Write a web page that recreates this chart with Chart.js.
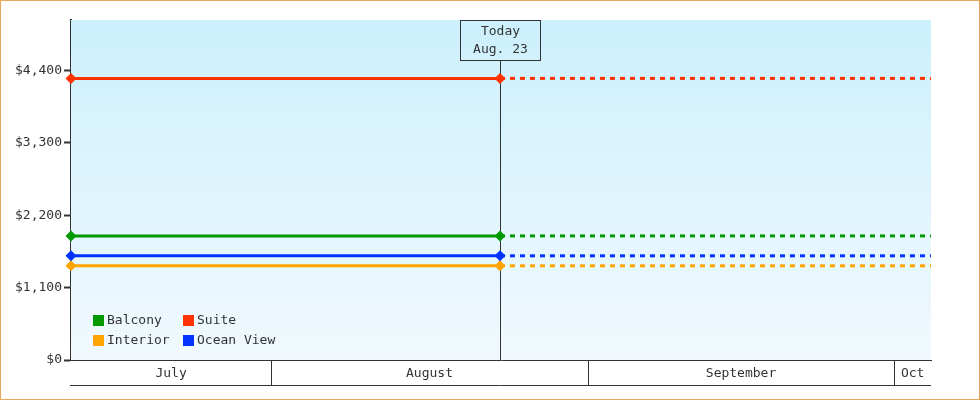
<!DOCTYPE html>
<html>
<head>
<meta charset="utf-8">
<script src="https://cdn.jsdelivr.net/npm/chart.js@4"></script>
<style>
  html, body { margin: 0; padding: 0; background: #fff; }
  #wrap { position: relative; width: 980px; height: 400px; }
  #frame { position: absolute; left: 0; top: 0; width: 978px; height: 398px; border: 1px solid #e8a860; pointer-events: none; }
</style>
</head>
<body>
<div id="wrap">
  <canvas id="priceChart" width="980" height="400"></canvas>
  <div id="frame"></div>
</div>
<script>
// cabin categories and their current price
const categories = ['Suite', 'Balcony', 'Ocean View', 'Interior']
const prices = [4282, 1887, 1584, 1432]
const lineColors = ['#ff3300', '#009900', '#0033ff', '#ffa500']
const legendOrder = ['Balcony', 'Suite', 'Interior', 'Ocean View']

// x values are days counted from July 1
const monthLabels = ['July', 'August', 'September', 'Oct']
const monthStarts = [0, 31, 62, 92]
const monthEnds = [31, 62, 92, 123]
const xStart = 11.4
const today = 53.4
const xEnd = 95.6
const todayLabel = ['Today', 'Aug. 23']

const yTicks = [0, 1100, 2200, 3300, 4400]
const yMax = 5170

const FONT = "13px 'DejaVu Sans Mono', monospace"
const INK = '#333'

const datasets = []
categories.forEach((name, i) => {
    // history up to today (solid, with markers)
    datasets.push({
        label: name,
        data: [{ x: xStart, y: prices[i] }, { x: today, y: prices[i] }],
        borderColor: lineColors[i],
        backgroundColor: lineColors[i],
        borderWidth: 3,
        pointStyle: 'rectRot',
        pointRadius: 5.5,
        pointBorderWidth: 0,
        clip: false
    })
    // projection after today (dashed)
    datasets.push({
        label: name + ' (projected)',
        data: [{ x: today, y: prices[i] }, { x: xEnd, y: prices[i] }],
        borderColor: lineColors[i],
        borderWidth: 3,
        borderDash: [5, 5],
        pointRadius: 0
    })
})

const decorations = {
    id: 'decorations',
    beforeDatasetsDraw(chart) {
        const { ctx, chartArea: a, scales: { x } } = chart
        // background gradient
        const g = ctx.createLinearGradient(0, a.top, 0, a.bottom)
        g.addColorStop(0, '#ccf0fd')
        g.addColorStop(1, '#f1f9fe')
        ctx.save()
        ctx.fillStyle = g
        ctx.fillRect(a.left, a.top, a.right - a.left, a.bottom - a.top)

        // today marker
        const tx = Math.round(x.getPixelForValue(today)) + 0.5
        ctx.strokeStyle = INK
        ctx.lineWidth = 1
        ctx.beginPath()
        ctx.moveTo(tx, a.top + 40)
        ctx.lineTo(tx, a.bottom)
        ctx.stroke()
        ctx.strokeRect(tx - 40, a.top + 0.5, 80, 40)
        ctx.fillStyle = INK
        ctx.font = FONT
        ctx.textAlign = 'center'
        ctx.textBaseline = 'middle'
        ctx.fillText(todayLabel[0], tx, a.top + 12)
        ctx.fillText(todayLabel[1], tx, a.top + 30)
        ctx.restore()
    },
    afterDraw(chart) {
        const { ctx, chartArea: a, scales: { x } } = chart
        ctx.save()
        ctx.strokeStyle = INK
        ctx.lineWidth = 1
        ctx.font = FONT
        ctx.fillStyle = INK

        // month band under the x axis
        const y0 = a.bottom, y1 = a.bottom + 25
        ctx.beginPath()
        ctx.moveTo(a.left - 1, y1 + 0.5)
        ctx.lineTo(a.right, y1 + 0.5)
        ctx.stroke()
        ctx.textAlign = 'center'
        ctx.textBaseline = 'middle'
        monthLabels.forEach((m, i) => {
            const s = Math.max(monthStarts[i], xStart)
            const e = Math.min(monthEnds[i], xEnd)
            if (e <= s) return
            if (monthStarts[i] > xStart) {
                const px = Math.round(x.getPixelForValue(monthStarts[i])) + 0.5
                ctx.beginPath()
                ctx.moveTo(px, y0)
                ctx.lineTo(px, y1)
                ctx.stroke()
            }
            const cx = (x.getPixelForValue(s) + x.getPixelForValue(e)) / 2
            ctx.fillText(m, cx, y0 + 14)
        })

        // legend inside the plot, two columns
        ctx.textAlign = 'left'
        legendOrder.forEach((name, k) => {
            const i = categories.indexOf(name)
            const lx = a.left + 22 + (k % 2) * 90
            const ly = a.bottom - 45 + Math.floor(k / 2) * 20
            ctx.fillStyle = lineColors[i]
            ctx.fillRect(lx, ly, 11, 11)
            ctx.fillStyle = INK
            ctx.fillText(name, lx + 14, ly + 6)
        })
        ctx.restore()
    }
}

new Chart(document.getElementById('priceChart').getContext('2d'), {
    type: 'line',
    data: { datasets },
    plugins: [decorations],
    options: {
        responsive: false,
        animation: false,
        layout: { padding: { top: 20, right: 49, left: 0, bottom: 0 } },
        plugins: { legend: { display: false }, tooltip: { enabled: false } },
        scales: {
            x: {
                type: 'linear',
                min: xStart,
                max: xEnd,
                ticks: { display: false },
                grid: { display: false },
                border: { color: INK, width: 1 },
                afterFit: s => { s.height = 40 }
            },
            y: {
                min: 0,
                max: yMax,
                afterBuildTicks: s => { s.ticks = yTicks.map(v => ({ value: v })) },
                ticks: {
                    color: INK,
                    font: { family: "'DejaVu Sans Mono', monospace", size: 13 },
                    padding: 2,
                    callback: v => '$' + v.toLocaleString('en-US')
                },
                grid: { drawOnChartArea: false, tickLength: 7, tickWidth: 2, tickColor: INK },
                border: { color: INK, width: 2 },
                afterFit: s => { s.width = 71 }
            }
        }
    }
})
</script>
</body>
</html>
